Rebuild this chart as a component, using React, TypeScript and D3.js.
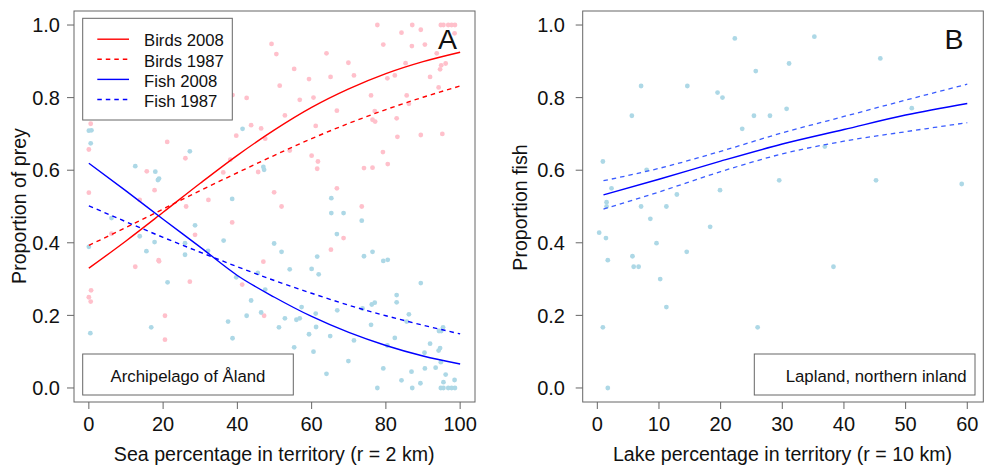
import React from "react";
import * as d3 from "d3";

// ---------- Panel A data ----------
const curveX = [0, 10, 20, 30, 40, 50, 60, 70, 80, 90, 100];
const birds2008 = [0.33, 0.405, 0.484, 0.564, 0.641, 0.711, 0.773, 0.824, 0.866, 0.899, 0.925];
const birds1987 = [0.393, 0.442, 0.493, 0.544, 0.593, 0.641, 0.687, 0.729, 0.767, 0.801, 0.832];
const fish2008 = [0.619, 0.543, 0.465, 0.388, 0.31, 0.25, 0.197, 0.153, 0.117, 0.088, 0.066];
const fish1987 = [0.502, 0.458, 0.415, 0.374, 0.334, 0.296, 0.261, 0.228, 0.199, 0.173, 0.149];

const birdPts: [number, number][] = [
  [77.7, 1.0], [87.1, 1.0], [94.8, 1.0], [95.5, 1.0], [96.8, 1.0], [97.7, 1.0], [98.6, 1.0],
  [84.2, 0.979], [89.4, 0.987], [98.5, 0.977], [90.5, 0.946], [87.0, 0.942], [79.3, 0.946],
  [93.7, 0.922], [94.9, 0.889], [94.6, 0.878], [96.1, 0.894], [85.3, 0.895], [91.9, 0.857],
  [82.4, 0.861], [80.4, 0.853], [69.9, 0.896], [71.4, 0.861], [65.1, 0.857], [64.0, 0.922],
  [59.3, 0.851], [55.3, 0.879], [51.4, 0.833], [50.5, 0.92], [49.2, 0.948], [56.8, 0.794],
  [60.5, 0.8], [66.8, 0.764], [76.0, 0.806], [77.0, 0.763], [76.4, 0.739], [77.1, 0.734],
  [85.6, 0.806], [86.2, 0.783], [82.9, 0.743], [83.1, 0.692], [89.4, 0.697], [95.2, 0.7],
  [94.2, 0.828], [79.2, 0.65], [80.5, 0.617], [76.4, 0.607], [74.1, 0.606], [66.8, 0.55],
  [61.7, 0.624], [61.5, 0.604], [60.0, 0.64], [61.1, 0.722], [52.8, 0.751], [54.1, 0.654],
  [46.4, 0.715], [47.5, 0.687], [45.6, 0.595], [43.7, 0.724], [42.5, 0.799], [39.7, 0.695],
  [38.7, 0.807], [36.2, 0.594], [38.1, 0.629], [32.2, 0.518], [49.9, 0.539], [51.9, 0.5],
  [73.5, 0.5], [26.2, 0.5], [26.0, 0.633], [21.1, 0.678], [17.7, 0.545], [15.6, 0.597],
  [13.7, 0.518], [0.5, 0.728], [0, 0.657], [0, 0.538],
  [6.1, 0.425], [38.6, 0.456], [28.6, 0.422], [18.8, 0.352], [18.9, 0.349], [12.5, 0.334],
  [27.2, 0.293], [41.3, 0.285], [47.0, 0.348], [47.2, 0.199], [20.5, 0.199], [20.5, 0.133],
  [0.6, 0.269], [0, 0.25], [0.5, 0.238], [65.2, 0.381], [68.6, 0.413],
];

const fishPts: [number, number][] = [
  [0, 0.709], [0.7, 0.71], [0.5, 0.674], [41.4, 0.714], [27.2, 0.652], [12.5, 0.611],
  [17.9, 0.596], [18.9, 0.577], [18.6, 0.573], [47.0, 0.609], [47.2, 0.601], [38.6, 0.521],
  [65.3, 0.523],
  [0, 0.389], [6.1, 0.468], [13.7, 0.418], [15.5, 0.377], [17.7, 0.402], [25.9, 0.399],
  [25.9, 0.367], [28.6, 0.448], [32.1, 0.378], [36.3, 0.406], [21.2, 0.291], [39.7, 0.305],
  [45.5, 0.317], [43.7, 0.241], [42.5, 0.199], [37.5, 0.183], [38.7, 0.137], [46.4, 0.208],
  [47.5, 0.271], [49.9, 0.398], [51.9, 0.375], [54.1, 0.327], [51.2, 0.167], [52.8, 0.192],
  [55.3, 0.112], [55.9, 0.188], [56.8, 0.192], [57.3, 0.223], [59.3, 0.148], [60.0, 0.328],
  [61.1, 0.205], [61.2, 0.168], [60.5, 0.1], [61.5, 0.362], [61.9, 0.313], [65.3, 0.482],
  [68.6, 0.482], [66.8, 0.424], [66.9, 0.214], [65.0, 0.143], [64.0, 0.039], [69.9, 0.074],
  [71.4, 0.131], [73.5, 0.461], [74.1, 0.363], [76.4, 0.375], [73.7, 0.219], [76.0, 0.174],
  [76.2, 0.23], [77.0, 0.235], [79.3, 0.35], [80.5, 0.353], [77.7, 0], [79.3, 0.054],
  [80.4, 0.117], [82.4, 0.138], [82.9, 0.256], [82.9, 0.236], [84.2, 0.021], [85.6, 0.183],
  [86.2, 0.203], [87.1, 0], [86.9, 0.045], [89.4, 0.289], [89.3, 0.013], [90.4, 0.097],
  [90.5, 0.054], [91.9, 0.122], [93.4, 0.056], [94.2, 0.103], [94.6, 0.11], [94.9, 0.157],
  [95.4, 0.167], [94.3, 0.157], [94.8, 0.071], [94.8, 0], [95.5, 0], [96.1, 0.037],
  [95.5, 0.016], [96.8, 0], [97.7, 0], [98.6, 0], [98.5, 0.022], [0.4, 0.151], [16.8, 0.167],
];

// ---------- Panel B data ----------
const lakeX = [1, 10, 20, 30, 40, 50, 60];
const lakeFit = [0.532, 0.575, 0.625, 0.672, 0.712, 0.752, 0.784];
const lakeUpper = [0.571, 0.605, 0.652, 0.703, 0.748, 0.793, 0.837];
const lakeLower = [0.493, 0.54, 0.596, 0.645, 0.68, 0.706, 0.731];

const lakePts: [number, number][] = [
  [22.3, 0.963], [35.2, 0.968], [45.9, 0.908], [31.1, 0.894], [25.7, 0.873], [7.1, 0.832],
  [14.6, 0.832], [19.5, 0.814], [20.3, 0.8], [5.6, 0.75], [25.4, 0.75], [28.0, 0.75],
  [30.7, 0.769], [51.0, 0.771], [23.5, 0.714], [36.9, 0.665], [0.9, 0.624], [8.0, 0.601],
  [29.5, 0.572], [45.2, 0.572], [59.1, 0.562], [2.3, 0.55], [19.9, 0.545], [12.9, 0.533],
  [1.5, 0.512], [1.5, 0.5], [7.1, 0.5], [11.2, 0.5], [8.6, 0.466], [0.3, 0.428], [1.4, 0.413],
  [9.6, 0.399], [18.3, 0.444], [14.5, 0.375], [1.7, 0.352], [5.7, 0.363], [5.9, 0.334],
  [6.7, 0.334], [10.2, 0.3], [38.3, 0.334], [11.2, 0.223], [0.9, 0.167], [26.0, 0.167],
  [1.7, 0],
];

const yTicks = [0, 0.2, 0.4, 0.6, 0.8, 1.0];
const xTicksA = [0, 20, 40, 60, 80, 100];
const xTicksB = [0, 10, 20, 30, 40, 50, 60];
const legendItems = ["Birds 2008", "Birds 1987", "Fish 2008", "Fish 1987"];

const FONT = "Liberation Sans, Arial, sans-serif";
const PINK = "#ffc0cb";
const LBLUE = "#add8e6";
const AXIS = "#666";
const TXT = "#111";

const top = 11, bottom = 402;

function Axes({ x, y, xTicks, left, right, labelRight }: any) {
  return (
    <g fontFamily={FONT} fill={TXT}>
      <rect x={left} y={top} width={right - left} height={bottom - top} fill="none" stroke={AXIS} strokeWidth={1} />
      {yTicks.map((t) => (
        <g key={"y" + t}>
          <line x1={left - 7} x2={left} y1={y(t)} y2={y(t)} stroke={AXIS} />
          <text x={labelRight} y={y(t) + 7.2} textAnchor="end" fontSize={20}>
            {t.toFixed(1)}
          </text>
        </g>
      ))}
      {xTicks.map((t: number) => (
        <g key={"x" + t}>
          <line x1={x(t)} x2={x(t)} y1={bottom} y2={bottom + 7} stroke={AXIS} />
          <text x={x(t)} y={431} textAnchor="middle" fontSize={20}>
            {t}
          </text>
        </g>
      ))}
    </g>
  );
}

export default function App() {
  const yA = d3.scaleLinear().domain([-0.04, 1.04]).range([bottom + 0.5, top - 0.5]);
  const xA = d3.scaleLinear().domain([-4, 104]).range([74, 475]);
  const xB = d3.scaleLinear().domain([-2.37, 62.6]).range([582.7, 983.3]);
  const yB = yA;

  const lineA = (vals: number[]) =>
    d3.line<number>().x((_, i) => xA(curveX[i])).y((v) => yA(v)).curve(d3.curveMonotoneX)(vals) || "";
  const lineB = (vals: number[]) =>
    d3.line<number>().x((_, i) => xB(lakeX[i])).y((v) => yB(v)).curve(d3.curveMonotoneX)(vals) || "";

  const legendStyles = [
    { c: "#ff0000", d: undefined },
    { c: "#ff0000", d: "4.5,4" },
    { c: "#0000ff", d: undefined },
    { c: "#0000ff", d: "4.5,4" },
  ];

  return (
    <svg
      width={985}
      height={465}
      style={{ position: "absolute", left: 0, top: 0, background: "#fff" }}
      fontFamily={FONT}
    >
      <rect width={985} height={465} fill="#fff" />
      {/* Panel A */}
      <g>
        {birdPts.map((p, i) => (
          <circle key={"b" + i} cx={xA(p[0])} cy={yA(p[1])} r={2.4} fill={PINK} />
        ))}
        {fishPts.map((p, i) => (
          <circle key={"f" + i} cx={xA(p[0])} cy={yA(p[1])} r={2.4} fill={LBLUE} />
        ))}
        <path d={lineA(birds2008)} fill="none" stroke="#ff0000" strokeWidth={1.4} />
        <path d={lineA(birds1987)} fill="none" stroke="#ff0000" strokeWidth={1.4} strokeDasharray="4.5,4" />
        <path d={lineA(fish2008)} fill="none" stroke="#0000ff" strokeWidth={1.4} />
        <path d={lineA(fish1987)} fill="none" stroke="#0000ff" strokeWidth={1.4} strokeDasharray="4.5,4" />
        <Axes x={xA} y={yA} xTicks={xTicksA} left={74} right={475} labelRight={60} />
        {/* legend */}
        <rect x={82.7} y={18.3} width={149.6} height={101.7} fill="#fff" stroke={AXIS} />
        {legendItems.map((l, i) => (
          <g key={l}>
            <line x1={97.3} x2={129} y1={39.2 + i * 20.1} y2={39.2 + i * 20.1} stroke={legendStyles[i].c}
              strokeWidth={1.4} strokeDasharray={legendStyles[i].d} />
            <text x={144} y={46.4 + i * 20.1} fontSize={16.7} fill={TXT}>{l}</text>
          </g>
        ))}
        <text x={457} y={48.5} textAnchor="end" fontSize={28.5} fill={TXT}>A</text>
        <rect x={82.7} y={354} width={210.6} height={41} fill="#fff" stroke={AXIS} />
        <text x={188} y={381.5} textAnchor="middle" fontSize={16.8} fill={TXT}>Archipelago of Åland</text>
        <text x={274.2} y={460.5} textAnchor="middle" fontSize={19.6} fill={TXT}>
          Sea percentage in territory (r = 2 km)
        </text>
        <text transform="translate(25.5,206) rotate(-90)" textAnchor="middle" fontSize={19.6} fill={TXT}>
          Proportion of prey
        </text>
      </g>
      {/* Panel B */}
      <g>
        {lakePts.map((p, i) => (
          <circle key={"l" + i} cx={xB(p[0])} cy={yB(p[1])} r={2.4} fill={LBLUE} />
        ))}
        <path d={lineB(lakeUpper)} fill="none" stroke="#3a5cff" strokeWidth={1.3} strokeDasharray="4.5,4" />
        <path d={lineB(lakeLower)} fill="none" stroke="#3a5cff" strokeWidth={1.3} strokeDasharray="4.5,4" />
        <path d={lineB(lakeFit)} fill="none" stroke="#0000ff" strokeWidth={1.5} />
        <Axes x={xB} y={yB} xTicks={xTicksB} left={582.7} right={983.3} labelRight={565} />
        <text x={963.5} y={48.5} textAnchor="end" fontSize={28.5} fill={TXT}>B</text>
        <rect x={754.3} y={354} width={220.7} height={41} fill="#fff" stroke={AXIS} />
        <text x={966.7} y={381.5} textAnchor="end" fontSize={16.8} fill={TXT}>Lapland, northern inland</text>
        <text x={782.5} y={460.5} textAnchor="middle" fontSize={19.6} fill={TXT}>
          Lake percentage in territory (r = 10 km)
        </text>
        <text transform="translate(527,207.5) rotate(-90)" textAnchor="middle" fontSize={19.6} fill={TXT}>
          Proportion fish
        </text>
      </g>
    </svg>
  );
}
